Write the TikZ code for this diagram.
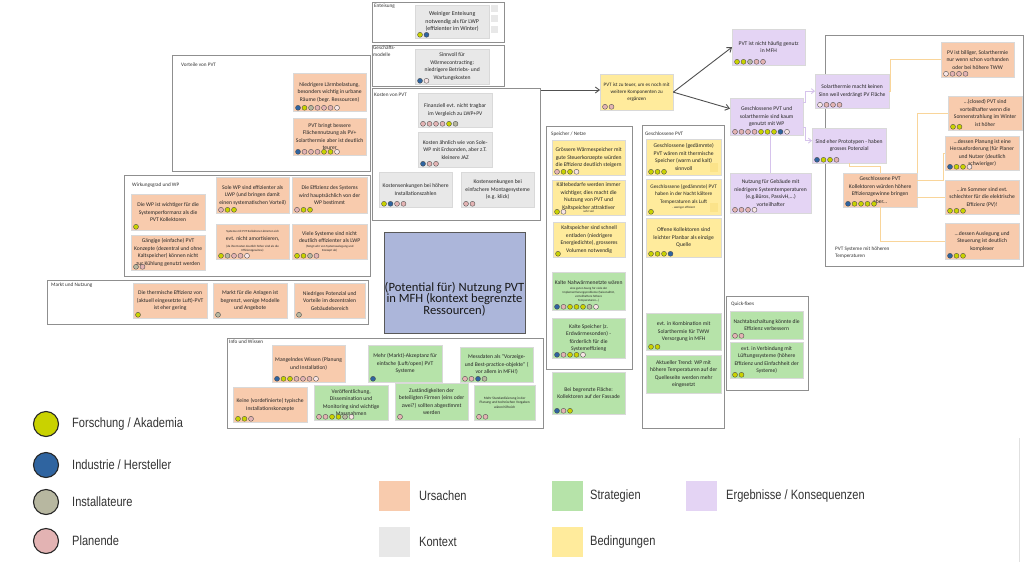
\documentclass[tikz,border=0pt]{standalone}
\usepackage{fontspec}
\setmainfont{Carlito}
\newfontfamily\legfont[FakeStretch=0.82]{Liberation Sans}
\usetikzlibrary{calc,arrows.meta}
\definecolor{orangeC}{HTML}{F8CBAD}
\definecolor{greenC}{HTML}{B6E3A9}
\definecolor{purpleC}{HTML}{E4D4F4}
\definecolor{grayC}{HTML}{E8E8E8}
\definecolor{yellowC}{HTML}{FFEB9C}
\definecolor{centerC}{HTML}{ACB6DA}
\definecolor{dY}{HTML}{C9D200}
\definecolor{dB}{HTML}{2F64A0}
\definecolor{dG}{HTML}{B7B7A0}
\definecolor{dP}{HTML}{E3B3B3}
\definecolor{dL}{HTML}{F7E4E4}
\definecolor{gbord}{HTML}{8F8F8F}
\definecolor{plin}{HTML}{D6C3EC}
\definecolor{olin}{HTML}{F9D59A}
\definecolor{darr}{HTML}{505050}
\definecolor{sqY}{HTML}{FBE38A}
\newcommand\smtxt{\fontsize{3.1}{4}\selectfont}
\newcommand\nt[8][\fontsize{5.6}{7.5}\selectfont]{\node[note,font={#1},fill=#7,minimum width=#5,minimum height=#6] (#2) at (#3,#4) {#8};}
\newcommand\dts[2]{\foreach \dc [count=\di] in {#2} {\draw[dot,fill=\dc] ($(#1.south west)+(5+6.5*\di-6.5,-3.5)$) circle (2.5pt);}}
\newcommand\grp[5]{\node[grp,minimum width=#4,minimum height=#5] (#1) at (#2,#3) {};}
\begin{document}
\begin{tikzpicture}[x=1pt,y=-1pt,
  note/.style={anchor=north west,inner xsep=0pt,inner ysep=1pt,align=center,text=black!85,draw=black!15,line width=0.3pt},
  grp/.style={draw=gbord,fill=white,line width=0.8pt,anchor=north west,inner sep=0pt},
  glabel/.style={anchor=west,inner sep=0pt,font=\fontsize{5.2}{6.4}\selectfont,text=black!80,align=left},
  dot/.style={draw=black!70,line width=0.35pt},
  darrow/.style={draw=darr,line width=0.9pt,-{Straight Barb[length=4pt,width=6pt]}},
  pline/.style={draw=plin,line width=0.9pt},
  parrow/.style={pline,-{Straight Barb[length=3pt,width=5pt]}},
  oline/.style={draw=olin,line width=0.9pt},
  legc/.style={circle,draw=black!85,line width=1.1pt,minimum size=25pt,inner sep=0pt},
  legt/.style={anchor=west,inner sep=0pt,font=\legfont\fontsize{13.5}{15}\selectfont,text=black!80},
  legsq/.style={anchor=north west,minimum width=31pt,minimum height=30pt,inner sep=0pt}]
\useasboundingbox (0,0) rectangle (1024,562);
\fill[white] (0,0) rectangle (1024,562);

% groups
\grp{gVort}{172}{55}{198}{116}
\grp{gEnt}{372}{2}{132}{40}
\grp{gGes}{372}{45}{132}{41}
\grp{gKost}{372}{88}{168}{132}
\grp{gWirk}{124}{175}{246}{101}
\grp{gMarkt}{47}{280}{321}{44}
\grp{gInfo}{227}{338}{316}{90}
\grp{gSpei}{546}{126}{86}{243}
\grp{gGPVT}{642}{125}{82}{303}
\grp{gQuick}{726}{296}{82}{94}
\grp{gHT}{825}{35}{198}{231}

\node[glabel] (lVort) at (181,65) {Vorteile von PVT};
\node[glabel] (lEnt) at (374,6) {Enteisung};
\node[glabel,anchor=north west] (lGes) at (373,46) {Geschäfts-\\modelle};
\node[glabel] (lKost) at (374,95) {Kosten von PVT};
\node[glabel] (lWirk) at (132,185) {Wirkungsgrad und WP};
\node[glabel] (lMarkt) at (51,285) {Markt und Nutzung};
\node[glabel] (lInfo) at (229,342) {Info und Wissen};
\node[glabel] (lSpei) at (551,134) {Speicher / Netze};
\node[glabel] (lGPVT) at (645,134) {Geschlossene PVT};
\node[glabel] (lQuick) at (731,304) {Quick-fixes};
\node[glabel,anchor=north west] (lHT) at (835,247) {PVT Systeme mit höheren\\Temperaturen};

% Vorteile
\nt{n1}{293}{73}{73}{38}{orangeC}{Niedrigere Lärmbelastung,\\besonders wichtig in urbane\\Räume (begr. Ressourcen)}
\dts{n1}{dB,dY,dG,dP,dP,dP,dL}
\nt{n2}{293}{118}{73}{37}{orangeC}{PVT bringt bessere\\Flächennutzung als PV+\\Solarthermie aber ist deutlich\\teurer}
\dts{n2}{dB,dP,dP,dP,dY,dY,dL}
% Enteisung / Geschaeftsmodelle
\nt[\fontsize{5.9}{7.6}\selectfont]{n3}{415}{5}{74}{33}{grayC}{Weiniger Enteisung\\notwendig als für LWP\\(effizienter im Winter)}
\dts{n3}{dY,dB}
\fill[grayC] (491,5) rectangle ++(7,7);
\fill[grayC] (491,15) rectangle ++(7,7);
\fill[grayC] (491,26) rectangle ++(7,7);
\nt{n4}{415}{49}{74}{35}{grayC}{Sinnvoll für\\Wärmecontracting:\\niedrigere Betriebs- und\\Wartungskosten}
\dts{n4}{dB,dL}
% Kosten
\nt{n5}{418}{93}{74}{34}{grayC}{Finanziell evt. nicht tragbar\\im Vergleich zu LWP+PV}
\dts{n5}{dP,dP,dP,dP,dY,dG}
\nt{n6}{418}{132}{74}{35}{grayC}{Kosten ähnlich wie von Sole-\\WP mit Erdsonden, aber z.T.\\kleinere JAZ}
\dts{n6}{dB,dP,dP}
\nt{n7}{379}{172}{73}{35}{grayC}{Kostensenkungen bei höhere\\Installationszahlen}
\dts{n7}{dY,dB,dP,dP}
\nt{n8}{461}{172}{73}{35}{grayC}{Kostensenkungen bei\\einfachere Montagesysteme\\(e.g. klick)}
\dts{n8}{dP,dP}
% Wirkungsgrad
\nt{n9}{131}{194}{74}{36}{orangeC}{Die WP ist wichtiger für die\\Systemperformanz als die\\PVT Kollektoren}
\dts{n9}{dY}
\nt{n10}{131}{235}{74}{35}{orangeC}{Gängige (einfache) PVT\\Konzepte (dezentral und ohne\\Kaltspeicher) können nicht\\zur Kühlung genutzt werden}
\dts{n10}{dG,dP}
\nt{n11}{216}{177}{73}{36}{orangeC}{Sole WP sind effizienter als\\LWP (und bringen damit\\einen systematischen Vorteil)}
\dts{n11}{dP,dY,dY}
\nt{n12}{216}{224}{73}{35}{orangeC}{{\smtxt Systeme mit PVT Kollektoren könnten sich}\\evt. nicht amortisieren,\\{\smtxt (da ihre Kosten deutlich höher sind als die}\\[-3.5pt]{\smtxt Effizienzgewinne)}}
\dts{n12}{dY,dG,dP,dP,dL}
\nt{n13}{292}{177}{75}{36}{orangeC}{Die Effizienz des Systems\\wird hauptsächlich von der\\WP bestimmt}
\dts{n13}{dP,dY,dY}
\nt{n14}{292}{224}{75}{35}{orangeC}{Viele Systeme sind nicht\\deutlich effizienter als LWP\\[-2.5pt]{\smtxt (hängt sehr von Systemauslegung und}\\[-3.5pt]{\smtxt Konzept ab)}}
\dts{n14}{dY,dY,dG,dP}
% Markt
\nt{n15}{133}{283}{74}{35}{orangeC}{Die thermische Effizienz von\\(aktuell eingesetzte Luft)-PVT\\ist eher gering}
\dts{n15}{dY}
\nt{n16}{213}{283}{74}{35}{orangeC}{Markt für die Anlagen ist\\begrenzt, wenige Modelle\\und Angebote}
\dts{n16}{dG}
\nt{n17}{294}{283}{71}{35}{orangeC}{Niedriges Potenzial und\\Vorteile im dezentralen\\Gebäudebereich}
\dts{n17}{dG}
% Info
\nt{n18}{272}{345}{73}{37}{orangeC}{Mangelndes Wissen (Planung\\und Installation)}
\dts{n18}{dB,dY,dY,dP,dP,dP,dL}
\nt{n19}{368}{345}{74}{37}{greenC}{Mehr (Markt)-Akzeptanz für\\einfache (Luft/open) PVT\\Systeme}
\dts{n19}{dB}
\nt{n20}{460}{347}{73}{35}{greenC}{Messdaten als "Vorzeige-\\und Best-practice-objekte" (\\vor allem in MFH!)}
\dts{n20}{dP,dP,dB,dG}
\nt{n21}{233}{387}{74}{35}{orangeC}{Keine (vordefinierte) typische\\Installationskonzepte}
\dts{n21}{dY,dY,dP}
\nt{n22}{314}{385}{74}{35}{greenC}{Veröffentlichung,\\Dissemination und\\Monitoring sind wichtige\\Massnahmen}
\dts{n22}{dP,dP,dY,dY,dG,dL}
\nt{n23}{395}{383}{73}{37}{greenC}{Zuständigkeiten der\\beteiligten Firmen (eins oder\\zwei?) sollten abgestimmt\\werden}
\dts{n23}{dP}
\nt[\fontsize{3.5}{4.6}\selectfont]{n24}{474}{385}{61}{35}{greenC}{Mehr Standardisierung in der\\Planung und technischen Vorgaben\\wären hilfreich}
\dts{n24}{dP,dP}
% Speicher
\nt{n25}{552}{140}{73}{35}{yellowC}{Grössere Wärmespeicher mit\\gute Steuerkonzepte würden\\die Effizienz deutlich steigern}
\dts{n25}{dP,dY,dY,dL}
\nt{n26}{552}{180}{73}{35}{yellowC}{Kältebedarfe werden immer\\wichtiger, dies macht die\\Nutzung von PVT und\\Kaltspeicher attraktiver\\[-4pt]{\smtxt sehr viel}}
\dts{n26}{dY,dL}
\nt{n27}{553}{222}{72}{35}{yellowC}{Kaltspeicher sind schnell\\entladen (niedrigere\\Energiedichte), grosseres\\Volumen notwendig}
\dts{n27}{dY}
\nt{n28}{552}{272}{73}{38}{greenC}{Kalte Nahwärmenetzte wären\\[-2pt]{\smtxt eine gute Lösung für viele der}\\[-3.5pt]{\smtxt Implementierungsprobleme (Saisonalität,}\\[-3.5pt]{\smtxt vorteilhaftere höhere}\\[-3.5pt]{\smtxt Temperaturen...)}}
\dts{n28}{dB,dP,dY,dY,dY,dG,dL}
\nt{n29}{552}{318}{73}{40}{greenC}{Kalte Speicher (z.\\Erdwärmesonden) -\\förderlich für die\\Systemeffizieng}
\dts{n29}{dB,dP,dY,dY,dL}
\nt{n30}{552}{372}{73}{42}{greenC}{Bei begrenzte Fläche:\\Kollektoren auf der Fassade}
\dts{n30}{dB,dP,dY}
% Geschlossene PVT
\nt{n31}{646}{139}{75}{36}{yellowC}{Geschlossene (gedämmte)\\PVT wären mit thermische\\Speicher (warm und kalt)\\sinnvoll}
\dts{n31}{dY,dY,dY}
\fill[sqY] (710,163) rectangle ++(8,9);
\nt[\fontsize{5.3}{7.2}\selectfont]{n32}{646}{179}{75}{36}{yellowC}{Geschlossene (gedämmte) PVT\\haben in der Nacht kältere\\Temperaturen als Luft\\[-1.5pt]{\smtxt - weniger effizient}}
\dts{n32}{dY}
\fill[sqY] (710,203) rectangle ++(8,9);
\nt{n33}{646}{218}{75}{39}{yellowC}{Offene Kollektoren sind\\leichter Planbar als einzige\\Quelle}
\dts{n33}{dY,dY,dY,dB}
\nt{n34}{646}{313}{75}{37}{greenC}{evt. in Kombination mit\\Solarthermie für TWW\\Versorgung in MFH}
\dts{n34}{dY,dY}
\nt{n35}{646}{355}{75}{38}{greenC}{Aktueller Trend: WP mit\\höhere Temperaturen auf der\\Quelleseite werden mehr\\eingesetzt}
% Quick-fixes
\nt{n36}{730}{311}{73}{28}{greenC}{Nachtabschaltung könnte die\\Effizienz verbessern}
\dts{n36}{dP,dP}
\nt{n37}{730}{342}{73}{36}{greenC}{evt. in Verbindung mit\\Lüftungssysteme (höhere\\Effizienz und Einfachheit der\\Systeme)}
\dts{n37}{dY,dY}
% right side
\nt[\fontsize{5.1}{7.2}\selectfont]{n38}{600}{74}{73}{36}{yellowC}{PVT ist zu teuer, um es noch mit\\weitere Komponenten zu\\ergänzen}
\dts{n38}{dP,dP}
\nt{n39}{732}{29}{73}{36}{purpleC}{PVT ist nicht häufig genutz\\in MFH}
\dts{n39}{dY,dY,dG,dP,dP}
\nt{n40}{730}{98}{73}{37}{purpleC}{Geschlossene PVT und\\solarthermie sind kaum\\genutzt mit WP}
\dts{n40}{dP,dP,dP,dP,dY,dY,dY,dB,dL}
\nt{n41}{730}{173}{81}{40}{purpleC}{Nutzung für Gebäude mit\\niedrigere Systemtemperaturen\\(e.g.Büros, PassivH,...)\\vorteilhafter}
\dts{n41}{dP,dP,dP,dL}
\nt{n42}{815}{74}{74}{34}{purpleC}{Solarthermie macht keinen\\Sinn weil verdrängt PV Fläche}
\dts{n42}{dL,dP,dP,dP}
\nt{n43}{812}{128}{74}{35}{purpleC}{Sind eher Prototypen - haben\\grosses Potenzial}
\dts{n43}{dB,dY,dY,dP}
\nt{n44}{941}{42}{73}{35}{orangeC}{PV ist billiger, Solarthermie\\nur wenn schon vorhanden\\oder bei höhere TWW}
\dts{n44}{dL,dP,dP,dP}
\nt{n45}{948}{96}{74}{34}{orangeC}{...(closed) PVT sind\\vorteilhafter wenn die\\Sonnenstrahlung im Winter\\ist höher}
\dts{n45}{dY,dY}
\nt{n46}{945}{136}{74}{34}{orangeC}{...dessen Planung ist eine\\Herausforderung (für Planer\\und Nutzer (deutlich\\schwieriger)}
\dts{n46}{dB,dY,dY,dL}
\nt{n47}{945}{180}{74}{34}{orangeC}{...im Sommer sind evt.\\schlechter für die elektrische\\Effizienz (PV)!}
\dts{n47}{dY,dY,dY}
\nt{n48}{945}{223}{74}{36}{orangeC}{...dessen Auslegung und\\Steuerung ist deutlich\\komplexer}
\dts{n48}{dB,dY,dY}
\nt{n49}{843}{173}{74}{34}{orangeC}{Geschlossene PVT\\Kollektoren würden höhere\\Effizienzgewinne bringen\\aber...}
\dts{n49}{dB,dY,dY,dY,dY}

% centre
\node[draw=black!65,fill=centerC,line width=0.6pt,minimum width=141,minimum height=101,anchor=north west,inner sep=0pt] (core) at (384,232) {};
\node[font=\fontsize{12.6}{11.4}\selectfont,align=center,inner sep=0pt,text=black!90] (coreT) at (454.5,299) {(Potential für) Nutzung PVT\\in MFH (kontext begrenzte\\Ressourcen)};

% connectors
\coordinate (ka) at ($(gKost.north east)+(0,2)$);
\draw[darrow] (ka) -- (ka -| n38.west);
\draw[darrow] (n38.east) -- (n39.west);
\draw[darrow] (n38.east) -- ($(n40.west)+(0,-8)$);
\draw[pline] (n41.north |- n40.south) -- (n41.north);
\draw[parrow] ($(n40.north east)+(0,4)$) -- ++(2,0) |- (n42.west);
\draw[parrow] ($(n40.south east)+(0,-8)$) -- ++(2,0) |- ($(n43.west)+(0,-5)$);
\draw[oline] (n42.east) -- ++(1.5,0) |- (n44.west);
\draw[oline] (n43.south) -- ++(0,3) -| (n49.north);
\draw[oline] (n49.north east) |- (n45.west);
\draw[oline] ($(n49.north east)+(0,7)$) -- ++(26,0) |- (n46.west);
\draw[oline] (n49.east |- n47.west) -- (n47.west);
\draw[oline] (n49.south) |- (n48.west);

% legend
\node[legc,fill=dY] (lg1) at (46,424) {};
\node[legt] (lt1) at (72,424) {Forschung / Akademia};
\node[legc,fill=dB] (lg2) at (46,465) {};
\node[legt] (lt2) at (72,465) {Industrie / Hersteller};
\node[legc,fill=dG] (lg3) at (46,502) {};
\node[legt] (lt3) at (72,502) {Installateure};
\node[legc,fill=dP] (lg4) at (46,541) {};
\node[legt] (lt4) at (72,541) {Planende};

\node[legsq,fill=orangeC] (ls1) at (379,481) {};
\node[legt] (lst1) at (419,496) {Ursachen};
\node[legsq,fill=greenC] (ls2) at (552,481) {};
\node[legt] (lst2) at (590,496) {Strategien};
\node[legsq,fill=purpleC] (ls3) at (686,481) {};
\node[legt] (lst3) at (726,496) {Ergebnisse / Konsequenzen};
\node[legsq,fill=grayC] (ls4) at (379,527) {};
\node[legt] (lst4) at (419,542) {Kontext};
\node[legsq,fill=yellowC] (ls5) at (552,527) {};
\node[legt] (lst5) at (590,542) {Bedingungen};

\draw[black!12,line width=0.8pt] (1019,438) -- (1019,562);
\end{tikzpicture}
\end{document}
